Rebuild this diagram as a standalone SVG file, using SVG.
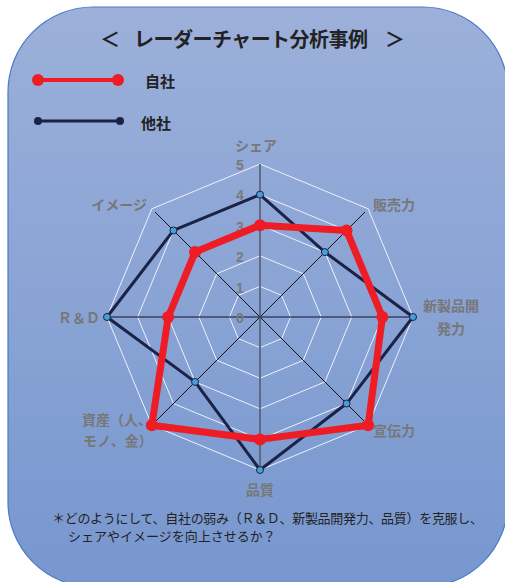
<svg xmlns="http://www.w3.org/2000/svg" width="505" height="582" viewBox="0 0 505 582">
<defs>
<linearGradient id="bg" x1="0" y1="0" x2="0" y2="1">
<stop offset="0" stop-color="#9cb0da"/>
<stop offset="1" stop-color="#7797cf"/>
</linearGradient>
</defs>
<style>
.jp{font-family:"Noto Sans CJK JP","Noto Sans",sans-serif;}
.title{font-size:20px;font-weight:bold;fill:#222;}
.leg{font-size:15px;font-weight:bold;fill:#222;}
.ax{font-size:14px;font-weight:bold;fill:#777;}
.tick{font-size:14px;font-weight:bold;fill:#7a7a7a;font-family:"Liberation Sans",Arial,sans-serif;text-anchor:middle;}
.note{font-size:13px;fill:#222;}
.ring{fill:none;stroke:#eef2fa;stroke-width:1;}
.mk{fill:#4a9ed8;stroke:#1b2245;stroke-width:1;}
</style>
<rect x="8" y="7" width="500" height="580" rx="85" ry="85" fill="url(#bg)" stroke="#4a7bc4" stroke-width="1.2"/>
<g id="title">
<text class="jp title" x="100" y="47">＜</text>
<text class="jp title" x="134" y="47" textLength="234">レーダーチャート分析事例</text>
<text class="jp title" x="385" y="47">＞</text>
</g>
<g id="legend">
<line x1="38" y1="80" x2="118" y2="80" stroke="#ee1c25" stroke-width="4"/>
<circle cx="38" cy="80" r="6" fill="#ee1c25"/>
<circle cx="118" cy="80" r="6" fill="#ee1c25"/>
<text class="jp leg" x="145" y="87">自社</text>
<line x1="38" y1="121" x2="120" y2="121" stroke="#1b2245" stroke-width="3"/>
<circle cx="38" cy="121" r="4" fill="#1b2245"/>
<circle cx="120" cy="121" r="4" fill="#1b2245"/>
<text class="jp leg" x="141" y="129">他社</text>
</g>
<g id="chart" transform="translate(260,317)">
<g id="grid">
<polygon class="ring" points="0,-30.6 21.64,-21.64 30.6,0 21.64,21.64 0,30.6 -21.64,21.64 -30.6,0 -21.64,-21.64"/>
<polygon class="ring" points="0,-61.2 43.27,-43.27 61.2,0 43.27,43.27 0,61.2 -43.27,43.27 -61.2,0 -43.27,-43.27"/>
<polygon class="ring" points="0,-91.8 64.91,-64.91 91.8,0 64.91,64.91 0,91.8 -64.91,64.91 -91.8,0 -64.91,-64.91"/>
<polygon class="ring" points="0,-122.4 86.55,-86.55 122.4,0 86.55,86.55 0,122.4 -86.55,86.55 -122.4,0 -86.55,-86.55"/>
<polygon class="ring" points="0,-153 108.19,-108.19 153,0 108.19,108.19 0,153 -108.19,108.19 -153,0 -108.19,-108.19"/>
</g>
<g id="axes">
<line x1="-105" y1="-105" x2="105" y2="105" stroke="#111" stroke-width="1"/>
<line x1="105" y1="-105" x2="-105" y2="105" stroke="#111" stroke-width="1"/>
<line x1="0" y1="-153" x2="0" y2="153" stroke="#555d70" stroke-width="1.6"/>
<line x1="-153" y1="0" x2="153" y2="0" stroke="#3a4260" stroke-width="1.6"/>
</g>
<g id="ticks">
<text class="tick" x="-20" y="-147">5</text>
<text class="tick" x="-20" y="-117">4</text>
<text class="tick" x="-20" y="-85">3</text>
<text class="tick" x="-20" y="-55">2</text>
<text class="tick" x="-20" y="-24">1</text>
<text class="tick" x="-20" y="6">0</text>
</g>
<g id="series-other">
<polygon points="0,-122.4 64.91,-64.91 153,0 86.55,86.55 0,153 -64.91,64.91 -153,0 -86.55,-86.55" fill="none" stroke="#1b2245" stroke-width="3" stroke-linejoin="round"/>
<circle class="mk" cx="0" cy="-122.4" r="3.5"/>
<circle class="mk" cx="64.91" cy="-64.91" r="3.5"/>
<circle class="mk" cx="153" cy="0" r="3.5"/>
<circle class="mk" cx="86.55" cy="86.55" r="3.5"/>
<circle class="mk" cx="0" cy="153" r="3.5"/>
<circle class="mk" cx="-64.91" cy="64.91" r="3.5"/>
<circle class="mk" cx="-153" cy="0" r="3.5"/>
<circle class="mk" cx="-86.55" cy="-86.55" r="3.5"/>
</g>
<g id="series-own" fill="#ee1c25">
<polygon points="0,-91.8 86.55,-86.55 122.4,0 108.19,108.19 0,122.4 -108.19,108.19 -91.8,0 -64.91,-64.91" fill="none" stroke="#ee1c25" stroke-width="7" stroke-linejoin="round"/>
<circle cx="0" cy="-91.8" r="6"/>
<circle cx="86.55" cy="-86.55" r="6"/>
<circle cx="122.4" cy="0" r="6"/>
<circle cx="108.19" cy="108.19" r="6"/>
<circle cx="0" cy="122.4" r="6"/>
<circle cx="-108.19" cy="108.19" r="6"/>
<circle cx="-91.8" cy="0" r="6"/>
<circle cx="-64.91" cy="-64.91" r="6"/>
</g>
</g>
<g id="axis-labels">
<text class="jp ax" x="256" y="151" text-anchor="middle">シェア</text>
<text class="jp ax" x="373" y="210">販売力</text>
<text class="jp ax" x="451" y="311" text-anchor="middle" font-size="16">新製品開</text>
<text class="jp ax" x="451" y="334" text-anchor="middle" font-size="16">発力</text>
<text class="jp ax" x="373" y="436">宣伝力</text>
<text class="jp ax" x="260" y="495" text-anchor="middle">品質</text>
<text class="jp ax" x="82" y="425">資産（人、</text>
<text class="jp ax" x="83" y="446">モノ、金）</text>
<text class="jp ax" x="100" y="323" text-anchor="end">Ｒ＆Ｄ</text>
<text class="jp ax" x="147" y="210" text-anchor="end">イメージ</text>
</g>
<g id="note">
<text class="jp note" x="52" y="523" textLength="431">＊どのようにして、自社の弱み（Ｒ＆Ｄ、新製品開発力、品質）を克服し、</text>
<text class="jp note" x="68" y="541">シェアやイメージを向上させるか？</text>
</g>
</svg>
